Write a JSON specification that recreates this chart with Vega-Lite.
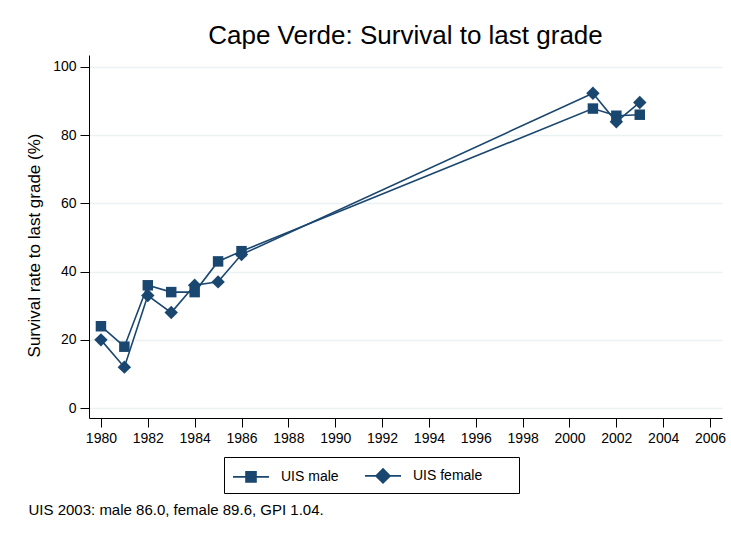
{
  "$schema": "https://vega.github.io/schema/vega-lite/v6.json",
  "width": 633,
  "height": 363,
  "autosize": {"type": "none"},
  "padding": {"left": 89, "top": 55, "right": 9, "bottom": 117},
  "background": "white",
  "config": {
    "font": "Liberation Sans",
    "view": {"stroke": null},
    "axis": {"labelFont": "Liberation Sans", "titleFont": "Liberation Sans", "labelColor": "#000", "titleColor": "#000", "domainColor": "#000", "tickColor": "#000", "labelFontSize": 14, "titleFontSize": 17, "titleFontWeight": "normal", "tickSize": 9, "labelPadding": 4}
  },
  "title": {"text": "Cape Verde: Survival to last grade", "fontSize": 26, "fontWeight": "normal", "font": "Liberation Sans", "color": "#000", "anchor": "middle", "offset": 6},
  "data": {"values": [
    {"year": 1980, "rate": 24, "series": "UIS male"},
    {"year": 1981, "rate": 18, "series": "UIS male"},
    {"year": 1982, "rate": 36, "series": "UIS male"},
    {"year": 1983, "rate": 34, "series": "UIS male"},
    {"year": 1984, "rate": 34, "series": "UIS male"},
    {"year": 1985, "rate": 43, "series": "UIS male"},
    {"year": 1986, "rate": 46, "series": "UIS male"},
    {"year": 2001, "rate": 87.8, "series": "UIS male"},
    {"year": 2002, "rate": 85.7, "series": "UIS male"},
    {"year": 2003, "rate": 86.0, "series": "UIS male"},
    {"year": 1980, "rate": 20, "series": "UIS female"},
    {"year": 1981, "rate": 12, "series": "UIS female"},
    {"year": 1982, "rate": 33, "series": "UIS female"},
    {"year": 1983, "rate": 28, "series": "UIS female"},
    {"year": 1984, "rate": 36, "series": "UIS female"},
    {"year": 1985, "rate": 37, "series": "UIS female"},
    {"year": 1986, "rate": 45, "series": "UIS female"},
    {"year": 2001, "rate": 92.3, "series": "UIS female"},
    {"year": 2002, "rate": 83.9, "series": "UIS female"},
    {"year": 2003, "rate": 89.6, "series": "UIS female"}
  ]},
  "encoding": {
    "x": {"field": "year", "type": "quantitative",
      "scale": {"domain": [1979.49, 2006.51], "nice": false, "zero": false},
      "axis": {"values": [1980,1982,1984,1986,1988,1990,1992,1994,1996,1998,2000,2002,2004,2006], "format": "d", "grid": false,
        "title": "UIS 2003: male 86.0, female 89.6, GPI 1.04.", "titleFontSize": 15, "titleAnchor": "start", "titleAlign": "left", "titleX": -61, "titleY": 96, "titleBaseline": "alphabetic"}},
    "y": {"field": "rate", "type": "quantitative",
      "scale": {"domain": [-2.9, 103.5], "nice": false, "zero": false},
      "axis": {"values": [0,20,40,60,80,100], "grid": true, "gridColor": "#eaf2f3", "gridWidth": 1.5, "title": "Survival rate to last grade (%)", "titlePadding": 9, "titleY": 190}}
  },
  "layer": [
    {"mark": {"type": "line", "strokeWidth": 1.6},
     "encoding": {
       "color": {"field": "series", "type": "nominal",
         "scale": {"domain": ["UIS male", "UIS female"], "range": ["#1a476f", "#1a476f"]},
         "legend": {"title": "\u2003", "titleOrient": "right", "titlePadding": 30, "titleFontSize": 14, "orient": "none", "legendX": 135, "legendY": 402, "direction": "horizontal",
           "strokeColor": "#000", "padding": 6.5, "labelFontSize": 14, "labelFont": "Liberation Sans", "labelColor": "#000",
           "symbolSize": 484, "symbolOffset": 8.5, "symbolStrokeWidth": 1.6, "columnPadding": 22, "labelOffset": 18,
           "encode": {"symbols": {"update": {
             "shape": {"signal": "datum.value === 'UIS male' ? 'M-1.636,0L1.636,0M-0.4545,-0.4545L0.4545,-0.4545L0.4545,0.4545L-0.4545,0.4545Z' : 'M-1.636,0L1.636,0M0,-0.636L0.636,0L0,0.636L-0.636,0Z'"},
             "fill": {"value": "#1a476f"}, "stroke": {"value": "#1a476f"}, "fillOpacity": {"value": 1}, "strokeWidth": {"value": 1.6}}}}}}}},
    {"mark": {"type": "point", "filled": true, "opacity": 1, "color": "#1a476f"},
     "encoding": {
       "shape": {"condition": {"test": "datum.series === 'UIS female'", "value": "diamond"}, "value": "square"},
       "size": {"condition": {"test": "datum.series === 'UIS female'", "value": 180}, "value": 110}}}
  ]
}
